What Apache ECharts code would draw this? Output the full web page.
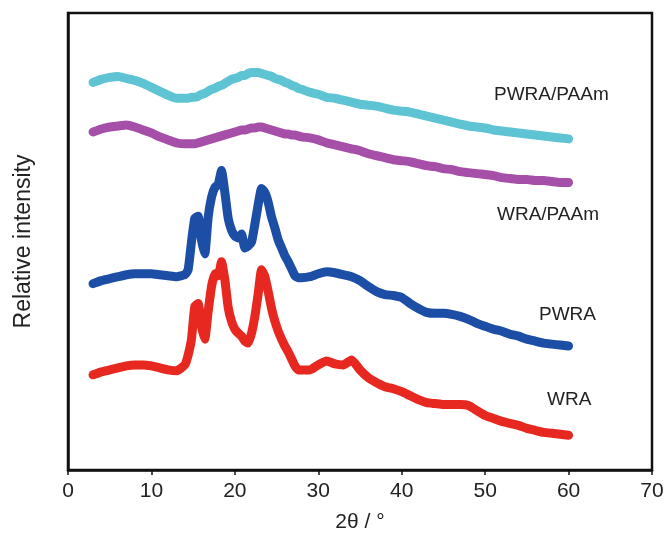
<!DOCTYPE html>
<html>
<head>
<meta charset="utf-8">
<script src="https://cdn.jsdelivr.net/npm/echarts@6/dist/echarts.min.js"></script>
<style>html,body{margin:0;padding:0;background:#fff}#c{width:668px;height:538px}</style>
</head>
<body>
<div id="c"></div>
<script>
var theta = [3,4,5,6,7,8,9,10,11,12,13,14,
  14.4,14.8,15.2,15.6,16.0,16.4,16.8,17.2,17.6,18.0,18.4,18.8,19.2,19.6,20.0,20.4,20.8,21.2,21.6,22.0,22.4,22.8,23.2,23.6,24.0,24.4,24.8,25.2,25.6,26.0,26.4,26.8,27.2,27.6,28.0,
  29,30,31,32,33,34,35,36,37,38,39,40,41,42,43,44,45,46,47,48,49,50,51,52,53,54,55,56,57,58,59,60];

var pwraPaam = [391,394,396,397,395,393,390,386,382,378,375,375,
  375,376,376,377,379,380,382,384,385,387,388,390,392,394,395,396,398,398,400,401,401,401,400,399,398,397,395,394,393,391,390,388,387,385,384,
  381,379,376,375,373,371,369,368,367,365,363,362,361,359,357,355,353,351,349,347,346,345,343,342,341,340,339,338,337,336,335,334];

var wraPaam = [341,344,346,347,348,346,343,340,336,333,330,329,
  329,329,329,330,331,332,333,334,335,336,337,338,339,340,341,342,343,343,344,345,345,346,346,345,344,343,342,341,340,339,339,338,338,337,336,
  335,333,330,328,326,324,322,319,317,315,313,312,311,309,307,306,304,303,301,300,299,298,297,295,294,293,293,292,292,291,290,290];

var pwra = [188,191,193,195,197,198,198,198,197,196,195,197,
  202,230,254,256,232,218,255,275,285,288,302,280,254,242,236,234,238,224,226,230,248,268,284,280,270,255,244,232,224,216,210,203,196,194,194,
  195,198,200,199,197,195,191,185,180,177,176,174,168,163,159,158,158,157,155,152,148,145,142,140,137,135,132,130,128,127,126,125];

var wra = [96,99,101,103,105,106,106,105,103,101,100,106,
  116,132,165,168,145,132,160,185,198,196,210,192,164,150,142,138,135,130,128,138,155,178,202,195,180,163,150,140,132,125,119,112,105,101,101,
  101,106,110,107,106,111,101,93,88,84,82,79,75,71,68,67,66,66,66,65,60,55,52,49,47,45,42,40,38,37,36,35];

var xTicks = [0,10,20,30,40,50,60,70];
var seriesNames = ['PWRA/PAAm','WRA/PAAm','PWRA','WRA'];
var seriesColors = ['#5ec3d2','#a64fa8','#1d4ea6','#e62820'];

function pairs(v){ return theta.map(function(t,i){ return [t, v[i]]; }); }

var chart = echarts.init(document.getElementById('c'), null, {renderer:'canvas'});
var font = '"Liberation Sans", Arial, sans-serif';
var data = [pwraPaam, wraPaam, pwra, wra];
chart.setOption({
  animation:false,
  backgroundColor:'#fff',
  grid:{left:68,right:16,top:13,bottom:64,show:true,borderColor:'#111',borderWidth:2.5,backgroundColor:'transparent'},
  xAxis:{type:'value',min:xTicks[0],max:xTicks[xTicks.length-1],interval:10,
    name:'2θ / °',nameLocation:'middle',nameGap:42,
    nameTextStyle:{fontFamily:font,fontSize:21,color:'#222'},
    axisLine:{show:true,lineStyle:{color:'#111',width:2.5}},
    axisTick:{show:true,inside:false,length:5,lineStyle:{color:'#111',width:1.5}},
    axisLabel:{fontFamily:font,fontSize:21,color:'#222',margin:11},
    splitLine:{show:false}},
  yAxis:{type:'value',min:0,max:461,
    name:'Relative intensity',nameLocation:'middle',nameGap:33,
    nameTextStyle:{fontFamily:font,fontSize:23,color:'#222'},
    axisLine:{show:true,lineStyle:{color:'#111',width:2.5}},
    axisTick:{show:false},axisLabel:{show:false},splitLine:{show:false}},
  graphic:[
    {type:'text',left:494,top:85,style:{text:seriesNames[0],font:'19px '+font,fill:'#222'}},
    {type:'text',left:497,top:205,style:{text:seriesNames[1],font:'19px '+font,fill:'#222'}},
    {type:'text',left:539,top:305,style:{text:seriesNames[2],font:'19px '+font,fill:'#222'}},
    {type:'text',left:547,top:390,style:{text:seriesNames[3],font:'19px '+font,fill:'#222'}}
  ],
  series:data.map(function(v,k){
    return {type:'line',name:seriesNames[k],data:pairs(v),showSymbol:false,smooth:0.15,
      lineStyle:{color:seriesColors[k],width:9,cap:'round',join:'round'}};
  })
});
</script>
</body>
</html>
